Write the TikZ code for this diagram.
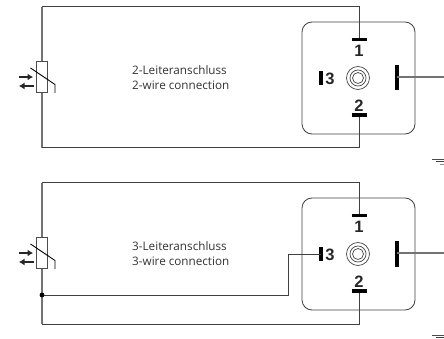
\documentclass[tikz,border=0pt]{standalone}
\usetikzlibrary{arrows.meta}
\usepackage{fontspec}
\setmainfont{Open Sans}
\newfontfamily\pinfont{Liberation Sans Bold}
\tikzset{
  wire/.style={line width=1pt,draw=black!75},
  greywire/.style={line width=1.5pt,draw=black!55},
  pinbar/.style={line width=3.6pt,draw=black},
  pinlabel/.style={inner sep=0pt,text=black!85,font=\pinfont\fontsize{16.5}{17}\selectfont},
  captionbox/.style={inner sep=0pt,anchor=west,align=left,text=black!80,font=\fontsize{11.7}{14.7}\selectfont},
  housing/.style={draw=black!75,line width=0.8pt,rounded corners=10pt},
  sensorbody/.style={draw=black!70,fill=white,line width=0.9pt},
  arrowbar/.style={line width=2.4pt,draw=black!85},
  ringline/.style={draw=black!70,line width=0.75pt},
}
\newcommand{\sensorunit}[3]{%
 \begin{scope}[shift={(0,#2)}]
  \coordinate (#1tl) at (42,7);
  \coordinate (#1bl) at (42,148);
  \coordinate (#1p1) at (359.5,39.5);
  \coordinate (#1p2) at (359.5,115);
  \coordinate (#1p3) at (320.7,78);
  \coordinate (#1c) at (358,78);
  \coordinate (#1r) at (444,77);
  \coordinate (#1rp) at (397,77);
  \node[housing,minimum width=113pt,minimum height=112pt,inner sep=0pt] (#1box) at (358.5,78) {};
  \node[sensorbody,minimum width=10.5pt,minimum height=30.5pt,inner sep=0pt] (#1res) at (42,77) {};
  \draw[greywire] (#1tl) -- (#1res.north);
  \draw[greywire] (#1res.south) -- (#1bl);
  \draw[wire] (#1tl) -| (#1p1);
  \draw[wire] (#1bl) -| (#1p2);
  \draw[pinbar] (351.5,39.5) -- (367,39.5);
  \draw[pinbar] (351.5,115) -- (367,115);
  \draw[pinbar,line width=4pt] (320.7,70.7) -- (320.7,85.3);
  \draw[pinbar,line width=4pt] (397,65) -- (397,90.5);
  \draw[greywire,line width=1.2pt] (#1rp) -- (#1r);
  \draw[line width=0.9pt,black] (30.5,68) -- (55,84.5) -- (55,93);
  \draw[arrowbar,-{Latex[length=5.5pt,width=7pt]}] (18.5,77) -- (33,77);
  \draw[arrowbar,-{Latex[length=5.5pt,width=7pt]}] (33.5,86) -- (19,86);
  \node[ringline,circle,minimum size=23pt,inner sep=0pt] (#1o) at (#1c) {};
  \node[ringline,circle,minimum size=16pt,inner sep=0pt] at (#1c) {};
  \node[ringline,circle,minimum size=11pt,inner sep=0pt] at (#1c) {};
  \node[pinlabel] at (359,50.5) {1};
  \node[pinlabel] at (359,105.5) {2};
  \node[pinlabel] at (330,78.5) {3};
  \node[captionbox] at (132,77.5) {#3};
  \draw[line width=0.9pt,black!70] (432,159) -- (444,159);
  \draw[line width=0.8pt,black!75] (436,161.5) -- (444,161.5);
  \draw[line width=0.8pt,black!45] (440,164) -- (444,164);
 \end{scope}}
\begin{document}
\begin{tikzpicture}[x=1pt,y=-1pt]
\useasboundingbox (0,0) rectangle (444,339);
\sensorunit{a}{0}{2-Leiteranschluss\\2-wire connection}
\sensorunit{b}{176}{3-Leiteranschluss\\3-wire connection}
\coordinate (bj) at (42,295);
\coordinate (bk) at (288.7,295);
\draw[wire] (bj) -- (bk) |- (bp3);
\fill[black] (bj) circle (2.4pt);
\end{tikzpicture}
\end{document}
